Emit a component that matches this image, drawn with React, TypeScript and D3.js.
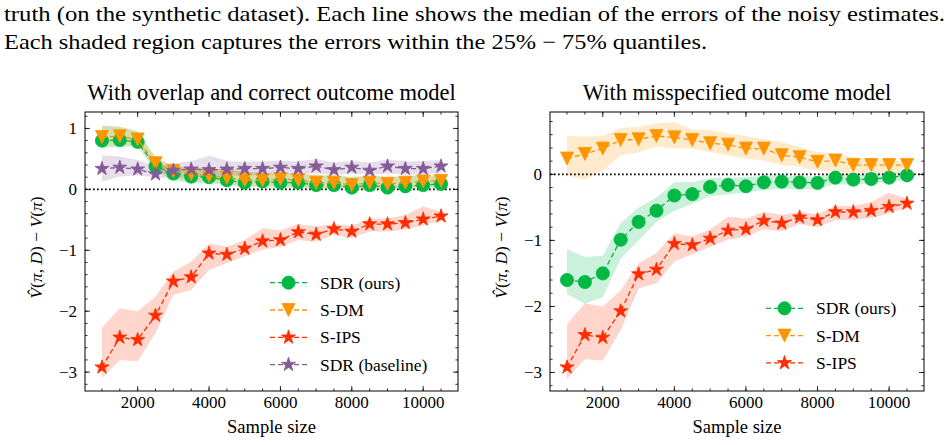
import React from "react";
import * as d3 from "d3";

// ---- data -------------------------------------------------------------
const sampleSizes = [1000, 1500, 2000, 2500, 3000, 3500, 4000, 4500, 5000, 5500, 6000, 6500, 7000, 7500, 8000, 8500, 9000, 9500, 10000, 10500];

// Panel A: overlap and correct outcome model
const sdrOursA = [0.80, 0.81, 0.78, 0.38, 0.26, 0.21, 0.20, 0.15, 0.11, 0.13, 0.11, 0.11, 0.07, 0.07, 0.03, 0.07, 0.03, 0.05, 0.07, 0.09];
const sdrOursALo = [0.68, 0.70, 0.70, 0.30, 0.15, 0.10, 0.10, 0.07, 0.04, 0.03, 0.02, 0.02, 0.00, 0.00, -0.01, 0.00, -0.01, 0.00, 0.00, 0.02];
const sdrOursAHi = [1.05, 1.03, 0.95, 0.52, 0.38, 0.36, 0.34, 0.33, 0.29, 0.27, 0.26, 0.25, 0.23, 0.22, 0.20, 0.22, 0.20, 0.21, 0.23, 0.23];

const sdmA = [0.86, 0.87, 0.82, 0.43, 0.30, 0.25, 0.22, 0.19, 0.15, 0.15, 0.17, 0.15, 0.11, 0.11, 0.07, 0.11, 0.09, 0.11, 0.13, 0.14];
const sdmALo = [0.70, 0.72, 0.72, 0.33, 0.18, 0.13, 0.12, 0.09, 0.06, 0.05, 0.05, 0.04, 0.02, 0.02, 0.01, 0.02, 0.01, 0.02, 0.03, 0.04];
const sdmAHi = [1.04, 1.02, 0.96, 0.53, 0.39, 0.36, 0.34, 0.33, 0.29, 0.28, 0.27, 0.26, 0.24, 0.23, 0.21, 0.23, 0.21, 0.22, 0.24, 0.24];

const sdrBaseA = [0.34, 0.36, 0.33, 0.25, 0.31, 0.33, 0.32, 0.33, 0.34, 0.34, 0.36, 0.34, 0.38, 0.32, 0.36, 0.31, 0.38, 0.34, 0.34, 0.38];
const sdrBaseALo = [0.13, 0.21, 0.23, 0.20, 0.18, 0.20, 0.22, 0.22, 0.23, 0.24, 0.25, 0.25, 0.26, 0.24, 0.26, 0.24, 0.26, 0.25, 0.25, 0.27];
const sdrBaseAHi = [0.56, 0.54, 0.48, 0.38, 0.43, 0.46, 0.55, 0.47, 0.45, 0.46, 0.47, 0.46, 0.50, 0.44, 0.47, 0.44, 0.49, 0.46, 0.46, 0.48];

// S-IPS is shared by both settings
const sips = [-2.92, -2.43, -2.47, -2.07, -1.51, -1.44, -1.05, -1.07, -0.97, -0.85, -0.83, -0.70, -0.74, -0.65, -0.69, -0.57, -0.57, -0.55, -0.49, -0.44];
const sipsLo = [-3.10, -2.80, -2.82, -2.36, -1.73, -1.65, -1.32, -1.21, -1.10, -0.99, -0.94, -0.83, -0.86, -0.75, -0.80, -0.69, -0.69, -0.66, -0.59, -0.51];
const sipsHi = [-2.27, -1.95, -2.00, -1.76, -1.35, -1.19, -0.89, -0.94, -0.83, -0.64, -0.67, -0.57, -0.61, -0.57, -0.60, -0.48, -0.48, -0.42, -0.28, -0.37];

// Panel B: misspecified outcome model
const sdrOursB = [-1.60, -1.63, -1.50, -0.99, -0.72, -0.55, -0.32, -0.30, -0.19, -0.16, -0.18, -0.12, -0.11, -0.12, -0.13, -0.05, -0.08, -0.07, -0.05, -0.015];
const sdrOursBLo = [-1.81, -1.96, -1.86, -1.28, -1.00, -0.72, -0.55, -0.45, -0.33, -0.30, -0.27, -0.24, -0.22, -0.22, -0.22, -0.15, -0.16, -0.14, -0.12, -0.09];
const sdrOursBHi = [-1.13, -1.25, -1.23, -0.74, -0.50, -0.35, -0.12, -0.12, -0.06, -0.05, -0.04, -0.02, -0.01, -0.03, -0.03, 0.02, 0.01, 0.01, 0.02, 0.04];

const sdmB = [0.24, 0.31, 0.39, 0.52, 0.53, 0.58, 0.56, 0.52, 0.47, 0.45, 0.39, 0.39, 0.29, 0.26, 0.19, 0.21, 0.14, 0.14, 0.14, 0.14];
const sdmBLo = [-0.02, -0.08, 0.06, 0.29, 0.33, 0.42, 0.39, 0.39, 0.34, 0.29, 0.24, 0.21, 0.14, 0.11, 0.06, 0.04, 0.01, 0.01, 0.01, 0.04];
const sdmBHi = [0.58, 0.57, 0.58, 0.70, 0.72, 0.77, 0.79, 0.68, 0.67, 0.62, 0.58, 0.53, 0.49, 0.41, 0.34, 0.31, 0.26, 0.24, 0.21, 0.19];

const xMajorTicks = [2000, 4000, 6000, 8000, 10000];
const xMinorTicks = d3.range(1000, 11000, 500);
const yMajorTicksA = [-3, -2, -1, 0, 1];
const yMajorTicksB = [-3, -2, -1, 0];

const captionLines = [
  "truth (on the synthetic dataset). Each line shows the median of the errors of the noisy estimates.",
  "Each shaded region captures the errors within the 25% − 75% quantiles.",
];

// ---- styling ----------------------------------------------------------
const FONT = "'Liberation Serif', 'Times New Roman', serif";
const GREEN = "#00B945";
const ORANGE = "#FF9500";
const RED = "#FF2C00";
const PURPLE = "#845B97";

const TITLE_SIZE = 22.5;
const TICK_SIZE = 17;
const LABEL_SIZE = 18.5;
const LEGEND_SIZE = 17.5;
const YLABEL_SIZE = 17.5;

type MarkerKind = "circle" | "tri" | "star";
type Series = { name: string; color: string; marker: MarkerKind; med: number[]; lo: number[]; hi: number[] };

const seriesA: Series[] = [
  { name: "SDR (ours)", color: GREEN, marker: "circle", med: sdrOursA, lo: sdrOursALo, hi: sdrOursAHi },
  { name: "S-DM", color: ORANGE, marker: "tri", med: sdmA, lo: sdmALo, hi: sdmAHi },
  { name: "S-IPS", color: RED, marker: "star", med: sips, lo: sipsLo, hi: sipsHi },
  { name: "SDR (baseline)", color: PURPLE, marker: "star", med: sdrBaseA, lo: sdrBaseALo, hi: sdrBaseAHi },
];

const seriesB: Series[] = [
  { name: "SDR (ours)", color: GREEN, marker: "circle", med: sdrOursB, lo: sdrOursBLo, hi: sdrOursBHi },
  { name: "S-DM", color: ORANGE, marker: "tri", med: sdmB, lo: sdmBLo, hi: sdmBHi },
  { name: "S-IPS", color: RED, marker: "star", med: sips, lo: sipsLo, hi: sipsHi },
];

function starPath(R: number): string {
  const r = R * 0.381966;
  const pts: string[] = [];
  for (let k = 0; k < 10; k++) {
    const rad = k % 2 === 0 ? R : r;
    const a = -Math.PI / 2 + (k * Math.PI) / 5;
    pts.push(`${(rad * Math.cos(a)).toFixed(2)},${(rad * Math.sin(a)).toFixed(2)}`);
  }
  return "M" + pts.join("L") + "Z";
}

function Marker({ kind, cx, cy, color }: { kind: MarkerKind; cx: number; cy: number; color: string }) {
  if (kind === "circle") {
    return <circle cx={cx} cy={cy} r={6.6} fill={color} stroke={color} strokeWidth={0.8} />;
  }
  if (kind === "tri") {
    const s = 6.5;
    return (
      <path
        transform={`translate(${cx},${cy})`}
        d={`M${-s},${-s}L${s},${-s}L0,${s}Z`}
        fill={color}
        stroke={color}
        strokeWidth={0.8}
        strokeLinejoin="miter"
      />
    );
  }
  return <path transform={`translate(${cx},${cy})`} d={starPath(7.4)} fill={color} stroke={color} strokeWidth={0.8} />;
}

type Box = { left: number; right: number; top: number; bottom: number };

function Panel({
  id,
  box,
  yDomain,
  yMajor,
  title,
  series,
  legendX,
  legendY,
}: {
  id: string;
  box: Box;
  yDomain: [number, number];
  yMajor: number[];
  title: string;
  series: Series[];
  legendX: number;
  legendY: number;
}) {
  const x = d3.scaleLinear().domain([525, 10975]).range([box.left, box.right]);
  const y = d3.scaleLinear().domain(yDomain).range([box.bottom, box.top]);
  const yMinor = d3
    .range(Math.ceil(yDomain[0] / 0.2 - 1e-9), Math.floor(yDomain[1] / 0.2 + 1e-9) + 1)
    .map((k) => +(k * 0.2).toFixed(2));
  const xMinor = xMinorTicks.filter((v) => v >= 525 && v <= 10975);

  const band = (s: Series) =>
    d3
      .area<number>()
      .x((_, i) => x(sampleSizes[i]))
      .y0((_, i) => y(s.lo[i]))
      .y1((_, i) => y(s.hi[i]))(s.med) || "";
  const line = (s: Series) =>
    d3
      .line<number>()
      .x((_, i) => x(sampleSizes[i]))
      .y((v) => y(v))(s.med) || "";

  const cx = (box.left + box.right) / 2;
  const cy = (box.top + box.bottom) / 2;
  const majLen = 5;
  const minLen = 2.6;
  const fmt = (v: number) => (v < 0 ? "\u2212" + Math.abs(v) : String(v));

  return (
    <g>
      <defs>
        <clipPath id={`clip-${id}`}>
          <rect x={box.left} y={box.top} width={box.right - box.left} height={box.bottom - box.top} />
        </clipPath>
      </defs>
      <g clipPath={`url(#clip-${id})`}>
        {series.map((s) => (
          <path key={"b" + s.name} d={band(s)} fill={s.color} fillOpacity={0.2} stroke="none" />
        ))}
        <line
          x1={box.left}
          x2={box.right}
          y1={y(0)}
          y2={y(0)}
          stroke="#000"
          strokeWidth={1.7}
          strokeDasharray="1.7,2.3"
        />
        {series.map((s) => (
          <g key={"l" + s.name}>
            <path d={line(s)} fill="none" stroke={s.color} strokeWidth={1.3} strokeDasharray="5,3" />
            {s.med.map((v, i) => (
              <Marker key={i} kind={s.marker} cx={x(sampleSizes[i])} cy={y(v)} color={s.color} />
            ))}
          </g>
        ))}
      </g>

      {/* frame */}
      <rect
        x={box.left}
        y={box.top}
        width={box.right - box.left}
        height={box.bottom - box.top}
        fill="none"
        stroke="#000"
        strokeWidth={1}
      />

      {/* x ticks, inward on bottom and top */}
      {xMinor.map((v) => (
        <g key={"xm" + v}>
          <line x1={x(v)} x2={x(v)} y1={box.bottom} y2={box.bottom - minLen} stroke="#000" strokeWidth={0.8} />
          <line x1={x(v)} x2={x(v)} y1={box.top} y2={box.top + minLen} stroke="#000" strokeWidth={0.8} />
        </g>
      ))}
      {xMajorTicks.map((v) => (
        <g key={"xM" + v}>
          <line x1={x(v)} x2={x(v)} y1={box.bottom} y2={box.bottom - majLen} stroke="#000" strokeWidth={0.8} />
          <line x1={x(v)} x2={x(v)} y1={box.top} y2={box.top + majLen} stroke="#000" strokeWidth={0.8} />
          <text x={x(v)} y={box.bottom + 17} textAnchor="middle" fontSize={TICK_SIZE} fontFamily={FONT} fill="#000">
            {v}
          </text>
        </g>
      ))}

      {/* y ticks, inward on left and right */}
      {yMinor.map((v) => (
        <g key={"ym" + v}>
          <line x1={box.left} x2={box.left + minLen} y1={y(v)} y2={y(v)} stroke="#000" strokeWidth={0.8} />
          <line x1={box.right} x2={box.right - minLen} y1={y(v)} y2={y(v)} stroke="#000" strokeWidth={0.8} />
        </g>
      ))}
      {yMajor.map((v) => (
        <g key={"yM" + v}>
          <line x1={box.left} x2={box.left + majLen} y1={y(v)} y2={y(v)} stroke="#000" strokeWidth={0.8} />
          <line x1={box.right} x2={box.right - majLen} y1={y(v)} y2={y(v)} stroke="#000" strokeWidth={0.8} />
          <text
            x={box.left - 8}
            y={y(v)}
            dy="0.35em"
            textAnchor="end"
            fontSize={TICK_SIZE}
            fontFamily={FONT}
            fill="#000"
          >
            {fmt(v)}
          </text>
        </g>
      ))}

      {/* title and axis labels */}
      <text x={cx} y={box.top - 12} textAnchor="middle" fontSize={TITLE_SIZE} fontFamily={FONT} fill="#000">
        {title}
      </text>
      <text x={cx} y={box.bottom + 42} textAnchor="middle" fontSize={LABEL_SIZE} fontFamily={FONT} fill="#000">
        Sample size
      </text>
      <text
        transform={`translate(${box.left - 43},${cy - 4}) rotate(-90)`}
        textAnchor="middle"
        fontSize={YLABEL_SIZE}
        fontFamily={FONT}
        fill="#000"
      >
        <tspan fontStyle="italic">{"V\u0302"}</tspan>
        <tspan>(</tspan>
        <tspan fontStyle="italic">π</tspan>
        <tspan>, </tspan>
        <tspan fontStyle="italic">D</tspan>
        <tspan>) − </tspan>
        <tspan fontStyle="italic">V</tspan>
        <tspan>(</tspan>
        <tspan fontStyle="italic">π</tspan>
        <tspan>)</tspan>
      </text>

      {/* legend */}
      {series.map((s, i) => {
        const ly = legendY + i * 27.3;
        return (
          <g key={"lg" + s.name}>
            <line
              x1={legendX}
              x2={legendX + 37}
              y1={ly}
              y2={ly}
              stroke={s.color}
              strokeWidth={1.3}
              strokeDasharray="5,3"
            />
            <Marker kind={s.marker} cx={legendX + 18.5} cy={ly} color={s.color} />
            <text x={legendX + 50} y={ly} dy="0.35em" fontSize={LEGEND_SIZE} fontFamily={FONT} fill="#000">
              {s.name}
            </text>
          </g>
        );
      })}
    </g>
  );
}

export default function App() {
  const width = 951;
  const height = 445;
  return (
    <div style={{ position: "absolute", left: 0, top: 0, width, height, background: "#fff" }}>
      <svg width={width} height={height} viewBox={`0 0 ${width} ${height}`} style={{ display: "block" }}>
        <rect width={width} height={height} fill="#fff" />
        <text x={4} y={21} fontSize={21} fontFamily={FONT} fill="#000" textLength={941} lengthAdjust="spacingAndGlyphs">
          {captionLines[0]}
        </text>
        <text x={4} y={49} fontSize={21} fontFamily={FONT} fill="#000" textLength={703} lengthAdjust="spacingAndGlyphs">
          {captionLines[1]}
        </text>
        <Panel
          id="a"
          box={{ left: 85, right: 458, top: 112, bottom: 391 }}
          yDomain={[-3.31, 1.27]}
          yMajor={yMajorTicksA}
          title="With overlap and correct outcome model"
          series={seriesA}
          legendX={270}
          legendY={282.7}
        />
        <Panel
          id="b"
          box={{ left: 550, right: 924, top: 112, bottom: 391 }}
          yDomain={[-3.28, 0.944]}
          yMajor={yMajorTicksB}
          title="With misspecified outcome model"
          series={seriesB}
          legendX={766}
          legendY={308.3}
        />
      </svg>
    </div>
  );
}
